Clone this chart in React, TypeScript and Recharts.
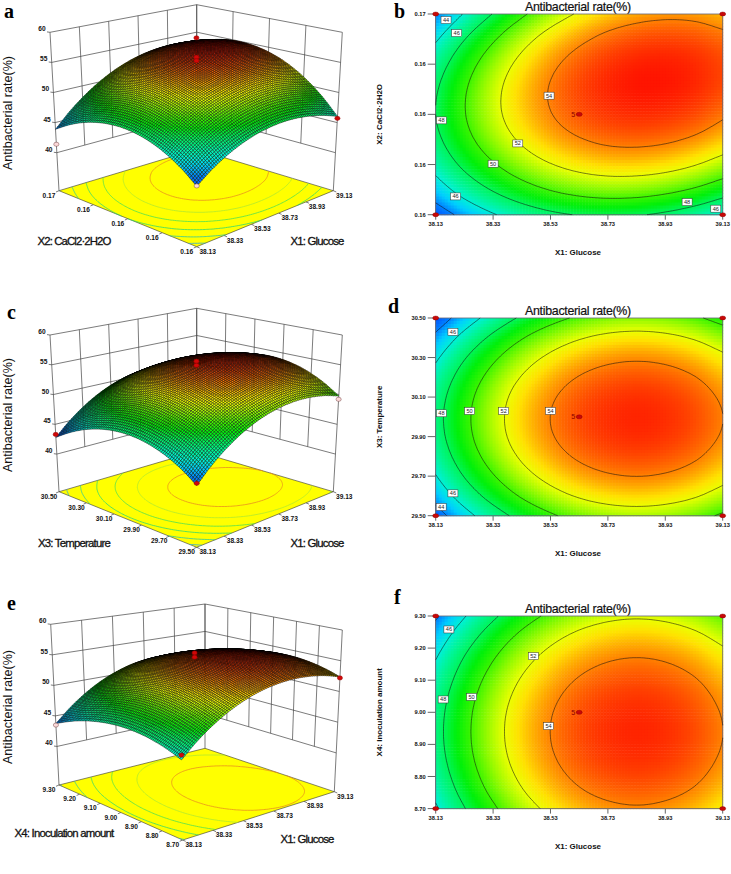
import React from "react";
import { ScatterChart, Scatter, XAxis, YAxis } from "recharts";

const X1_VALUES = [38.13, 38.23, 38.33, 38.43, 38.53, 38.63, 38.73, 38.83, 38.93, 39.03, 39.13];
const X1_TICKS = [38.13, 38.33, 38.53, 38.73, 38.93, 39.13];
const X1_LABELS = ["38.13", "38.33", "38.53", "38.73", "38.93", "39.13"];

const X2_VALUES = [0.155, 0.156, 0.157, 0.158, 0.159, 0.16, 0.161, 0.162, 0.163, 0.164, 0.165];
const X2_TICKS = [0.155, 0.1575, 0.16, 0.1625, 0.165];
const X2_LABELS = ["0.16", "0.16", "0.16", "0.16", "0.17"];
const X3_VALUES = [29.5, 29.6, 29.7, 29.8, 29.9, 30.0, 30.1, 30.2, 30.3, 30.4, 30.5];
const X3_TICKS = [29.5, 29.7, 29.9, 30.1, 30.3, 30.5];
const X3_LABELS = ["29.50", "29.70", "29.90", "30.10", "30.30", "30.50"];
const X4_VALUES = [8.7, 8.76, 8.82, 8.88, 8.94, 9.0, 9.06, 9.12, 9.18, 9.24, 9.3];
const X4_TICKS = [8.7, 8.8, 8.9, 9.0, 9.1, 9.2, 9.3];
const X4_LABELS = ["8.70", "8.80", "8.90", "9.00", "9.10", "9.20", "9.30"];

const Z_TICKS = [40, 45, 50, 55, 60];
const CONTOUR_LEVELS = [44, 46, 48, 50, 52, 54];

// Antibacterial rate, rows from the lowest to the highest second factor, columns along X1_VALUES.
const RATE_X1_X2 = [
  [42.95, 44.55, 45.86, 46.89, 47.64, 48.08, 48.25, 48.12, 47.70, 47.01, 46.02],
  [44.69, 46.36, 47.73, 48.82, 49.63, 50.14, 50.37, 50.30, 49.94, 49.31, 48.38],
  [46.06, 47.80, 49.23, 50.38, 51.25, 51.83, 52.12, 52.11, 51.83, 51.26, 50.39],
  [47.07, 48.87, 50.36, 51.58, 52.51, 53.15, 53.51, 53.56, 53.34, 52.83, 52.03],
  [47.72, 49.58, 51.14, 52.41, 53.41, 54.11, 54.53, 54.65, 54.49, 54.05, 53.31],
  [48.00, 49.92, 51.54, 52.88, 53.94, 54.71, 55.19, 55.37, 55.27, 54.89, 54.21],
  [47.90, 49.89, 51.57, 52.98, 54.10, 54.93, 55.47, 55.72, 55.68, 55.37, 54.75],
  [47.45, 49.50, 51.25, 52.71, 53.90, 54.79, 55.40, 55.71, 55.73, 55.48, 54.93],
  [46.64, 48.75, 50.56, 52.09, 53.34, 54.29, 54.96, 55.33, 55.43, 55.24, 54.75],
  [45.44, 47.62, 49.49, 51.09, 52.40, 53.41, 54.15, 54.58, 54.74, 54.61, 54.19],
  [43.89, 46.13, 48.07, 49.72, 51.10, 52.18, 52.97, 53.47, 53.69, 53.63, 53.26],
];
const RATE_X1_X3 = [
  [43.16, 45.31, 47.12, 48.61, 49.76, 50.59, 51.08, 51.25, 51.08, 50.59, 49.76],
  [44.72, 46.87, 48.68, 50.17, 51.32, 52.15, 52.64, 52.81, 52.64, 52.15, 51.32],
  [45.92, 48.07, 49.88, 51.37, 52.52, 53.35, 53.84, 54.01, 53.84, 53.35, 52.52],
  [46.77, 48.92, 50.73, 52.22, 53.37, 54.20, 54.69, 54.86, 54.69, 54.20, 53.37],
  [47.27, 49.42, 51.23, 52.72, 53.87, 54.70, 55.19, 55.36, 55.19, 54.70, 53.87],
  [47.41, 49.56, 51.37, 52.86, 54.01, 54.84, 55.33, 55.50, 55.33, 54.84, 54.01],
  [47.20, 49.35, 51.16, 52.65, 53.80, 54.63, 55.12, 55.29, 55.12, 54.63, 53.80],
  [46.63, 48.78, 50.59, 52.08, 53.23, 54.06, 54.55, 54.72, 54.55, 54.06, 53.23],
  [45.71, 47.86, 49.67, 51.16, 52.31, 53.14, 53.63, 53.80, 53.63, 53.14, 52.31],
  [44.43, 46.58, 48.39, 49.88, 51.03, 51.86, 52.35, 52.52, 52.35, 51.86, 51.03],
  [42.81, 44.96, 46.77, 48.26, 49.41, 50.24, 50.73, 50.90, 50.73, 50.24, 49.41],
];
const RATE_X1_X4 = [
  [45.78, 47.93, 49.74, 51.23, 52.38, 53.21, 53.70, 53.87, 53.70, 53.21, 52.38],
  [46.49, 48.64, 50.45, 51.94, 53.09, 53.92, 54.41, 54.58, 54.41, 53.92, 53.09],
  [47.00, 49.15, 50.96, 52.45, 53.60, 54.43, 54.92, 55.09, 54.92, 54.43, 53.60],
  [47.31, 49.46, 51.27, 52.76, 53.91, 54.74, 55.23, 55.40, 55.23, 54.74, 53.91],
  [47.41, 49.56, 51.37, 52.86, 54.01, 54.84, 55.33, 55.50, 55.33, 54.84, 54.01],
  [47.31, 49.46, 51.27, 52.76, 53.91, 54.74, 55.23, 55.40, 55.23, 54.74, 53.91],
  [47.00, 49.15, 50.96, 52.45, 53.60, 54.43, 54.92, 55.09, 54.92, 54.43, 53.60],
  [46.49, 48.64, 50.45, 51.94, 53.09, 53.92, 54.41, 54.58, 54.41, 53.92, 53.09],
  [45.78, 47.93, 49.74, 51.23, 52.38, 53.21, 53.70, 53.87, 53.70, 53.21, 52.38],
  [44.86, 47.01, 48.82, 50.31, 51.46, 52.29, 52.78, 52.95, 52.78, 52.29, 51.46],
  [43.74, 45.89, 47.70, 49.19, 50.34, 51.17, 51.66, 51.83, 51.66, 51.17, 50.34],
];

// Design points: [x1, second factor, rate, kept].
const POINTS_A = [[38.63, 0.16, 59.7, 1], [38.63, 0.16, 56.5, 1], [38.63, 0.16, 55.9, 1], [38.13, 0.165, 41.4, 0], [39.13, 0.155, 45.7, 1], [38.13, 0.155, 43.0, 0]];
const POINTS_C = [[38.63, 30.0, 56.2, 1], [38.63, 30.0, 55.5, 1], [39.13, 29.5, 49.2, 0], [38.13, 30.5, 43.3, 1], [38.13, 29.5, 43.5, 1]];
const POINTS_E = [[38.63, 9.0, 56.4, 1], [38.63, 9.0, 55.7, 1], [38.13, 9.3, 43.5, 0], [39.13, 8.7, 52.2, 1], [38.13, 8.7, 46.5, 1]];

// Contour labels: [x1, second factor, level].
const LABELS_B = [[38.166, 0.1647, 44], [38.203, 0.16405, 46], [38.15, 0.1597, 48], [38.33, 0.15754, 50], [38.416, 0.15855, 52], [38.525, 0.16093, 54], [38.199, 0.15591, 46], [39.006, 0.15563, 48], [39.106, 0.1553, 46]];
const LABELS_D = [[38.19, 30.43, 46], [38.15, 30.018, 48], [38.248, 30.03, 50], [38.367, 30.03, 52], [38.53, 30.03, 54], [38.19, 29.613, 46], [38.149, 29.544, 44]];
const LABELS_F = [[38.176, 9.258, 46], [38.156, 9.04, 48], [38.255, 9.048, 50], [38.47, 9.175, 52], [38.523, 8.957, 54]];

const SANS = "'Liberation Sans', Arial, sans-serif";

type P = [number, number];
type Box = { F: P; L: P; R: P; B: P; tF: P; tL: P; tR: P; tB: P };

const BOX_A: Box = { F: [196.7, 246.7], L: [59, 190.7], R: [333.3, 190.7], B: [196.7, 149.3], tF: [196.7, 75], tL: [50, 32.3], tR: [342.3, 32.3], tB: [196.7, 4.7] };
const BOX_C: Box = { F: [196.7, 547.3], L: [59, 491.7], R: [333.3, 491.7], B: [196.7, 451.3], tF: [196.7, 375.7], tL: [50, 335], tR: [342.3, 335], tB: [196.7, 308.3] };
const BOX_E: Box = { F: [182.7, 840], L: [59, 785], R: [334.3, 791.7], B: [205, 748.3], tF: [180, 665.7], tL: [50.7, 624.3], tR: [342.3, 630], tB: [205, 604] };

const lerp = (a: number, b: number, t: number) => a + (b - a) * t;
const bil = (F: P, R: P, L: P, B: P, u: number, v: number): P => [
  lerp(lerp(F[0], R[0], u), lerp(L[0], B[0], u), v),
  lerp(lerp(F[1], R[1], u), lerp(L[1], B[1], u), v),
];
const wOf = (z: number) => 0.24 + (0.76 * (z - 40)) / 20;
function project(b: Box, u: number, v: number, w: number): P {
  const f = bil(b.F, b.R, b.L, b.B, u, v);
  const t = bil(b.tF, b.tR, b.tL, b.tB, u, v);
  return [lerp(f[0], t[0], w), lerp(f[1], t[1], w)];
}

const STOPS: [number, number, number, number][] = [
  [42.5, 0, 70, 255], [44, 0, 130, 255], [45, 0, 205, 255], [46, 0, 240, 215], [47, 0, 245, 150], [48, 0, 245, 90],
  [49, 0, 240, 10], [50, 60, 245, 0], [51, 150, 250, 0], [52, 235, 255, 0], [52.7, 255, 225, 0], [53.5, 255, 165, 0],
  [54.2, 255, 115, 0], [55, 255, 65, 0], [55.8, 255, 20, 0],
];
function ramp(z: number): string {
  if (z <= STOPS[0][0]) return `rgb(${STOPS[0][1]},${STOPS[0][2]},${STOPS[0][3]})`;
  for (let k = 1; k < STOPS.length; k++) {
    if (z <= STOPS[k][0]) {
      const a = STOPS[k - 1], b = STOPS[k], t = (z - a[0]) / (b[0] - a[0]);
      return `rgb(${Math.round(lerp(a[1], b[1], t))},${Math.round(lerp(a[2], b[2], t))},${Math.round(lerp(a[3], b[3], t))})`;
    }
  }
  const l = STOPS[STOPS.length - 1];
  return `rgb(${l[1]},${l[2]},${l[3]})`;
}

const cr = (p0: number, p1: number, p2: number, p3: number, t: number) =>
  0.5 * (2 * p1 + (p2 - p0) * t + (2 * p0 - 5 * p1 + 4 * p2 - p3) * t * t + (3 * p1 - p0 - 3 * p2 + p3) * t * t * t);

function smoother(g: number[][]) {
  const nr = g.length, nc = g[0].length;
  const at = (j: number, i: number): number => {
    if (j < 0) return 2 * at(0, i) - at(1, i);
    if (j >= nr) return 2 * at(nr - 1, i) - at(nr - 2, i);
    if (i < 0) return 2 * at(j, 0) - at(j, 1);
    if (i >= nc) return 2 * at(j, nc - 1) - at(j, nc - 2);
    return g[j][i];
  };
  return (fu: number, fv: number) => {
    const x = fu * (nc - 1), y = fv * (nr - 1);
    const i = Math.min(Math.floor(x), nc - 2), j = Math.min(Math.floor(y), nr - 2);
    const tx = x - i, ty = y - j;
    const row = (jj: number) => cr(at(jj, i - 1), at(jj, i), at(jj, i + 1), at(jj, i + 2), tx);
    return cr(row(j - 1), row(j), row(j + 1), row(j + 2), ty);
  };
}

function contourPath(zf: (u: number, v: number) => number, pos: (u: number, v: number) => P, level: number, n = 90) {
  let d = "";
  const val: number[][] = [];
  for (let j = 0; j <= n; j++) {
    const r: number[] = [];
    for (let i = 0; i <= n; i++) r.push(zf(i / n, j / n));
    val.push(r);
  }
  for (let j = 0; j < n; j++) {
    for (let i = 0; i < n; i++) {
      const a = val[j][i], b = val[j][i + 1], c = val[j + 1][i + 1], e = val[j + 1][i];
      const cross: P[] = [];
      const push = (p: number, q: number, u1: number, v1: number, u2: number, v2: number) => {
        if ((p < level) !== (q < level)) {
          const t = (level - p) / (q - p);
          cross.push(pos((i + lerp(u1, u2, t)) / n, (j + lerp(v1, v2, t)) / n));
        }
      };
      push(a, b, 0, 0, 1, 0);
      push(b, c, 1, 0, 1, 1);
      push(c, e, 1, 1, 0, 1);
      push(e, a, 0, 1, 0, 0);
      if (cross.length >= 2) d += `M${cross[0][0].toFixed(1)} ${cross[0][1].toFixed(1)}L${cross[1][0].toFixed(1)} ${cross[1][1].toFixed(1)}`;
    }
  }
  return d;
}

const gridOf = (points: any[], n = 11) => {
  const xs: number[][] = [], ys: number[][] = [];
  for (let j = 0; j < n; j++) {
    xs.push(points.slice(j * n, j * n + n).map((p) => p.x));
    ys.push(points.slice(j * n, j * n + n).map((p) => p.y));
  }
  return [smoother(xs), smoother(ys)];
};

const NoMark = () => <g />;
const FLOOR_CONTOUR: Record<number, string> = { 44: "#30a8d8", 46: "#30c8a0", 48: "#30d870", 50: "#50e050", 52: "#b0e830", 54: "#e89020" };

function Surface3D({ box, table, values, top, height, rightLabels, xTitle, yTitle, xTitlePos, yTitlePos, xSpacing, ySpacing, points, zTitleY }: any) {
  const toUV = (x1: number, y: number) => [(x1 - 38.13), (y - values[0]) / (values[10] - values[0])];
  const shift = (p: P) => ({ px: p[0], py: p[1] - top });
  const surf: any[] = [], floor: any[] = [];
  table.forEach((row: number[], j: number) =>
    row.forEach((z, i) => {
      surf.push(shift(project(box, i / 10, j / 10, wOf(z))));
      floor.push(shift(project(box, i / 10, j / 10, 0)));
    }),
  );
  const rightCells = rightLabels.length - 1;
  const walls: any[] = [];
  const seg = (a: P, b: P) => walls.push(shift(a), shift(b));
  for (let k = 0; k <= 5; k++) seg(project(box, k / 5, 1, wOf(40)), project(box, k / 5, 1, 1));
  for (let k = 0; k <= rightCells; k++) seg(project(box, 1, k / rightCells, wOf(40)), project(box, 1, k / rightCells, 1));
  Z_TICKS.forEach((z) => {
    seg(project(box, 0, 1, wOf(z)), project(box, 1, 1, wOf(z)));
    seg(project(box, 1, 1, wOf(z)), project(box, 1, 0, wOf(z)));
  });
  seg(project(box, 0, 1, 0), project(box, 0, 1, wOf(40)));
  seg(project(box, 1, 0, 0), project(box, 1, 0, wOf(40)));
  seg(project(box, 1, 1, 0), project(box, 1, 1, wOf(40)));
  X1_TICKS.forEach((_, k) => {
    const a = project(box, k / 5, 0, 0);
    seg(a, [a[0] + 3, a[1] + 1.3]);
  });
  rightLabels.forEach((_: string, k: number) => {
    const a = project(box, 0, k / rightCells, 0);
    seg(a, [a[0] - 3, a[1] + 1.3]);
  });
  Z_TICKS.forEach((z) => {
    const a = project(box, 0, 1, wOf(z));
    seg(a, [a[0] - 3, a[1] - 0.4]);
  });

  const x1Text = X1_LABELS.map((label, k) => ({ ...shift(project(box, k / 5, 0, 0)), label }));
  const rText = rightLabels.map((label: string, k: number) => ({ ...shift(project(box, 0, k / rightCells, 0)), label }));
  const zText = Z_TICKS.map((z) => ({ ...shift(project(box, 0, 1, wOf(z))), label: String(z) }));
  const markers = points.map((m: number[]) => {
    const uv = toUV(m[0], m[1]);
    return { ...shift(project(box, uv[0], uv[1], wOf(m[2]))), kept: m[3] };
  });
  const zf = smoother(table);
  const label = (dx: number, dy: number, anchor = "middle") => (p: any) => (
    <text x={p.cx + dx} y={p.cy + dy} textAnchor={anchor} fontSize={6.6} fontWeight="bold" fontFamily={SANS} fill="#111">
      {p.payload.label}
    </text>
  );

  const drawWalls = (p: any) => {
    let d = "";
    for (let k = 0; k + 1 < p.points.length; k += 2) d += `M${p.points[k].x} ${p.points[k].y}L${p.points[k + 1].x} ${p.points[k + 1].y}`;
    return <path d={d} fill="none" stroke="#444" strokeWidth={0.7} />;
  };
  const drawFloor = (p: any) => {
    const pts = p.points;
    const [xf, yf] = gridOf(pts);
    const a = pts[0], b = pts[10], c = pts[120], e = pts[110];
    return (
      <g>
        <polygon points={`${a.x},${a.y} ${b.x},${b.y} ${c.x},${c.y} ${e.x},${e.y}`} fill="#ffff00" stroke="#333" strokeWidth={0.6} />
        {CONTOUR_LEVELS.map((lv) => (
          <path key={lv} d={contourPath(zf, (u, v) => [xf(u, v), yf(u, v)], lv)} fill="none" stroke={FLOOR_CONTOUR[lv]} strokeWidth={0.8} />
        ))}
      </g>
    );
  };
  const drawSurface = (p: any) => {
    const [xf, yf] = gridOf(p.points);
    const M = 80;
    const G: number[][][] = [];
    for (let j = 0; j <= M; j++) {
      const r: number[][] = [];
      for (let i = 0; i <= M; i++) r.push([xf(i / M, j / M), yf(i / M, j / M)]);
      G.push(r);
    }
    const out: any[] = [];
    for (let j = M - 1; j >= 0; j--) {
      for (let i = M - 1; i >= 0; i--) {
        const a = G[j][i], b = G[j][i + 1], c = G[j + 1][i + 1], e = G[j + 1][i];
        const z = zf((i + 0.5) / M, (j + 0.5) / M);
        out.push(
          <path
            key={j * 1000 + i}
            d={`M${a[0].toFixed(1)} ${a[1].toFixed(1)}L${b[0].toFixed(1)} ${b[1].toFixed(1)}L${c[0].toFixed(1)} ${c[1].toFixed(1)}L${e[0].toFixed(1)} ${e[1].toFixed(1)}Z`}
            fill={ramp(z)}
            stroke="#000"
            strokeWidth={0.42}
          />,
        );
      }
    }
    return <g>{out}</g>;
  };
  const drawMarker = (p: any) => (
    <ellipse cx={p.cx} cy={p.cy} rx={2.6} ry={2.1} fill={p.payload.kept ? "#d00808" : "#fbd8d8"} stroke={p.payload.kept ? "#900" : "#744"} strokeWidth={0.5} />
  );

  return (
    <div style={{ position: "absolute", left: 0, top }}>
      <ScatterChart width={365} height={height} margin={{ top: 0, right: 0, bottom: 0, left: 0 }}>
        <XAxis hide type="number" dataKey="px" domain={[0, 365]} />
        <YAxis hide type="number" dataKey="py" domain={[0, height]} reversed />
        <Scatter data={walls} line={drawWalls} shape={NoMark} isAnimationActive={false} />
        <Scatter data={floor} line={drawFloor} shape={NoMark} isAnimationActive={false} />
        <Scatter data={surf} line={drawSurface} shape={NoMark} isAnimationActive={false} />
        <Scatter data={markers} shape={drawMarker} isAnimationActive={false} />
        <Scatter data={x1Text} shape={label(11, 7)} isAnimationActive={false} />
        <Scatter data={rText} shape={label(-10, 7)} isAnimationActive={false} />
        <Scatter data={zText} shape={label(-8, -1)} isAnimationActive={false} />
        <text x={xTitlePos[0]} y={xTitlePos[1] - top} textAnchor="middle" fontSize={11.4} letterSpacing={xSpacing} fontFamily={SANS} fill="#111" stroke="#111" strokeWidth={0.3}>{xTitle}</text>
        <text x={yTitlePos[0]} y={yTitlePos[1] - top} textAnchor="middle" fontSize={11.4} letterSpacing={ySpacing} fontFamily={SANS} fill="#111" stroke="#111" strokeWidth={0.3}>{yTitle}</text>
        <text transform={`translate(11.5,${zTitleY - top}) rotate(-90)`} textAnchor="middle" fontSize={12.6} fontFamily={SANS} fill="#111">
          Antibacterial rate(%)
        </text>
      </ScatterChart>
    </div>
  );
}

function Contour2D({ table, values, ticks, tickLabels, plotTop, plotBottom, yTitle, labels }: any) {
  const T = plotTop - 14;
  const height = plotBottom - T + 50;
  const heat = table.flatMap((row: number[], j: number) => row.map((z, i) => ({ x: X1_VALUES[i], y: values[j], z })));
  const lo = values[0], hi = values[10];
  const corners = [
    { x: 38.13, y: lo }, { x: 39.13, y: lo }, { x: 38.13, y: hi }, { x: 39.13, y: hi },
    { x: 38.63, y: (lo + hi) / 2, center: 1 },
  ];
  const zf = smoother(table);
  const drawHeat = (p: any) => {
    const pts = p.points;
    const x0 = pts[0].x, x1 = pts[10].x, y0 = pts[0].y, y1 = pts[110].y;
    const out: any[] = [];
    const nx = 96, ny = 66;
    const cw = (x1 - x0) / nx, ch = (y0 - y1) / ny;
    for (let j = 0; j < ny; j++) {
      for (let i = 0; i < nx; i++) {
        out.push(
          <rect key={j * 1000 + i} x={x0 + i * cw} y={y1 + j * ch} width={cw + 0.5} height={ch + 0.5} fill={ramp(zf((i + 0.5) / nx, 1 - (j + 0.5) / ny))} />,
        );
      }
    }
    return (
      <g>
        {out}
        <rect x={x0} y={y1} width={x1 - x0} height={y0 - y1} fill="none" stroke="#667" strokeWidth={0.8} />
        {CONTOUR_LEVELS.map((lv) => (
          <path key={lv} d={contourPath(zf, (u, v) => [lerp(x0, x1, u), lerp(y0, y1, v)], lv, 120)} fill="none" stroke="#111" strokeWidth={0.55} />
        ))}
      </g>
    );
  };
  const drawCorner = (p: any) => (
    <g>
      <ellipse cx={p.cx} cy={p.cy} rx={3} ry={2} fill="#c80808" stroke="#800" strokeWidth={0.4} />
      {p.payload.center ? (
        <text x={p.cx - 6} y={p.cy + 2.5} textAnchor="middle" fontSize={7} fontFamily={SANS} fill="#800">5</text>
      ) : null}
    </g>
  );
  const drawLabel = (p: any) => (
    <g>
      <rect x={p.cx - 5} y={p.cy - 3.5} width={10} height={7} fill="#fff" stroke="#333" strokeWidth={0.5} />
      <text x={p.cx} y={p.cy + 2} textAnchor="middle" fontSize={5.6} fontFamily={SANS} fill="#222">{p.payload.label}</text>
    </g>
  );
  const labelData = labels.map((l: number[]) => ({ x: l[0], y: l[1], label: l[2] }));
  const tickStyle = { fontSize: 5.7, fontWeight: "bold", fontFamily: SANS, fill: "#111" };
  return (
    <div style={{ position: "absolute", left: 365, top: T }}>
      <ScatterChart width={366} height={height} margin={{ top: 14, right: 8.3, bottom: 30, left: 0 }}>
        <XAxis
          type="number" dataKey="x" domain={[38.13, 39.13]} ticks={X1_TICKS} interval={0} height={20}
          tickFormatter={(v: number) => X1_LABELS[X1_TICKS.indexOf(v)]} tick={tickStyle} tickSize={5} tickMargin={2}
          stroke="#222" strokeWidth={0.7}
        />
        <YAxis
          type="number" dataKey="y" domain={[lo, hi]} ticks={ticks} interval={0} width={70.7}
          tickFormatter={(v: number) => tickLabels[ticks.indexOf(v)]} tick={tickStyle} tickSize={8} tickMargin={2}
          stroke="#222" strokeWidth={0.7}
        />
        <Scatter data={heat} line={drawHeat} shape={NoMark} isAnimationActive={false} />
        <Scatter data={corners} shape={drawCorner} isAnimationActive={false} />
        <Scatter data={labelData} shape={drawLabel} isAnimationActive={false} />
        <text x={213} y={11} textAnchor="middle" fontSize={12.4} letterSpacing={-0.3} fontFamily={SANS} fill="#111" stroke="#111" strokeWidth={0.2}>Antibacterial rate(%)</text>
        <text x={213} y={plotBottom - T + 40} textAnchor="middle" fontSize={8} fontWeight="bold" fontFamily={SANS} fill="#111">X1: Glucose</text>
        <text transform={`translate(17,${14 + (plotBottom - plotTop) / 2}) rotate(-90)`} textAnchor="middle" fontSize={8} fontWeight="bold" fontFamily={SANS} fill="#111">{yTitle}</text>
      </ScatterChart>
    </div>
  );
}

const LETTERS: [string, number, number][] = [
  ["a", 4, 0], ["b", 394, 0], ["c", 7, 301], ["d", 388, 295], ["e", 7, 592], ["f", 394, 586],
];

export default function App() {
  return (
    <div style={{ position: "absolute", left: 0, top: 0, width: 731, height: 874, background: "#fff", overflow: "hidden" }}>
      <Surface3D box={BOX_A} table={RATE_X1_X2} values={X2_VALUES} top={0} height={285} rightLabels={X2_LABELS} xTitle="X1: Glucose" yTitle="X2: CaCl2·2H2O" xTitlePos={[317, 245]} yTitlePos={[74, 245]} xSpacing={-0.8} ySpacing={-0.9} points={POINTS_A} zTitleY={113} />
      <Surface3D box={BOX_C} table={RATE_X1_X3} values={X3_VALUES} top={290} height={285} rightLabels={X3_LABELS} xTitle="X1: Glucose" yTitle="X3: Temperature" xTitlePos={[317, 547]} yTitlePos={[74, 547]} xSpacing={-0.8} ySpacing={-0.8} points={POINTS_C} zTitleY={415} />
      <Surface3D box={BOX_E} table={RATE_X1_X4} values={X4_VALUES} top={590} height={284} rightLabels={X4_LABELS} xTitle="X1: Glucose" yTitle="X4: Inoculation amount" xTitlePos={[307, 843]} yTitlePos={[64, 837]} xSpacing={-0.8} ySpacing={-0.8} points={POINTS_E} zTitleY={707} />
      <Contour2D table={RATE_X1_X2} values={X2_VALUES} ticks={X2_TICKS} tickLabels={X2_LABELS} plotTop={14} plotBottom={214.7} yTitle="X2: CaCl2·2H2O" labels={LABELS_B} />
      <Contour2D table={RATE_X1_X3} values={X3_VALUES} ticks={X3_TICKS} tickLabels={X3_LABELS} plotTop={318} plotBottom={515.7} yTitle="X3: Temperature" labels={LABELS_D} />
      <Contour2D table={RATE_X1_X4} values={X4_VALUES} ticks={X4_TICKS} tickLabels={X4_LABELS} plotTop={615.7} plotBottom={808.3} yTitle="X4: Inoculation amount" labels={LABELS_F} />
      {LETTERS.map(([t, x, y]) => (
        <span key={t} style={{ position: "absolute", left: x, top: y, fontFamily: "'Liberation Serif', serif", fontWeight: "bold", fontSize: 20 }}>{t}</span>
      ))}
    </div>
  );
}
